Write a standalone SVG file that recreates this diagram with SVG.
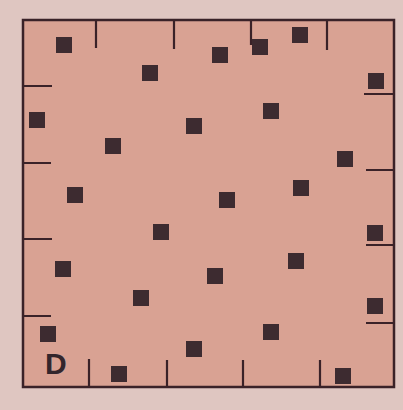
<svg xmlns="http://www.w3.org/2000/svg" width="403" height="410" viewBox="0 0 403 410">
<style>
.bg{fill:#dfc6c1}
.field{fill:#d9a293}
.frame{fill:none;stroke:#3a2228;stroke-width:2.5}
.tick{stroke:#3a2228;stroke-width:2.2;fill:none}
.sq{fill:#3d2b30}
.lbl{font-family:"Liberation Sans",Arial,sans-serif;font-weight:bold;font-size:30px;fill:#33262c}
</style>
<rect class="bg" x="0" y="0" width="403" height="410"/>
<g id="plot">
<rect class="field" x="23" y="20" width="371" height="367"/>
<rect class="frame" x="23" y="20" width="371" height="367"/>
</g>
<g id="ticks">
<path class="tick" d="M96 20V48M174 20V49M251 20V45M327 20V50"/>
<path class="tick" d="M23 86H52M23 163H51M23 239H52M23 316H51"/>
<path class="tick" d="M364 94H394M366 170H394M366 245H394M366 323H394"/>
<path class="tick" d="M89 359V387M167 360V387M243 360V387M320 360V387"/>
</g>
<g id="squares">
<rect class="sq" x="56" y="37" width="16" height="16"/>
<rect class="sq" x="142" y="65" width="16" height="16"/>
<rect class="sq" x="29" y="112" width="16" height="16"/>
<rect class="sq" x="186" y="118" width="16" height="16"/>
<rect class="sq" x="105" y="138" width="16" height="16"/>
<rect class="sq" x="67" y="187" width="16" height="16"/>
<rect class="sq" x="212" y="47" width="16" height="16"/>
<rect class="sq" x="252" y="39" width="16" height="16"/>
<rect class="sq" x="292" y="27" width="16" height="16"/>
<rect class="sq" x="368" y="73" width="16" height="16"/>
<rect class="sq" x="263" y="103" width="16" height="16"/>
<rect class="sq" x="337" y="151" width="16" height="16"/>
<rect class="sq" x="293" y="180" width="16" height="16"/>
<rect class="sq" x="219" y="192" width="16" height="16"/>
<rect class="sq" x="153" y="224" width="16" height="16"/>
<rect class="sq" x="55" y="261" width="16" height="16"/>
<rect class="sq" x="133" y="290" width="16" height="16"/>
<rect class="sq" x="40" y="326" width="16" height="16"/>
<rect class="sq" x="186" y="341" width="16" height="16"/>
<rect class="sq" x="111" y="366" width="16" height="16"/>
<rect class="sq" x="367" y="225" width="16" height="16"/>
<rect class="sq" x="288" y="253" width="16" height="16"/>
<rect class="sq" x="207" y="268" width="16" height="16"/>
<rect class="sq" x="367" y="298" width="16" height="16"/>
<rect class="sq" x="263" y="324" width="16" height="16"/>
<rect class="sq" x="335" y="368" width="16" height="16"/>
</g>
<g id="label-D">
<text class="lbl" x="45" y="374">D</text>
</g>
</svg>
